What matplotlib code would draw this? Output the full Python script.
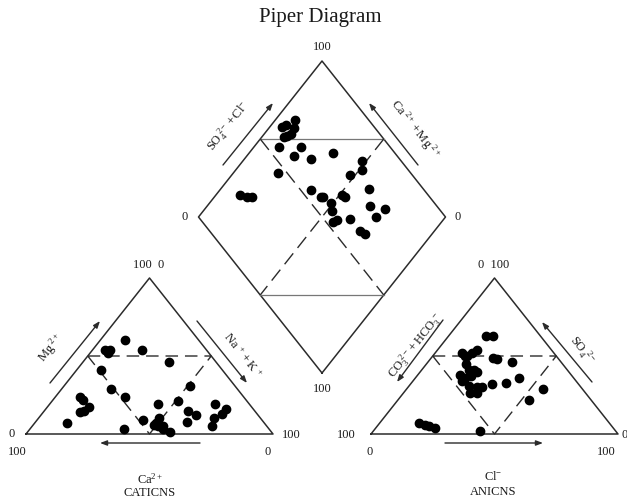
import numpy as np
import matplotlib.pyplot as plt

plt.rcParams['font.family'] = ['Liberation Serif', 'DejaVu Serif']
plt.rcParams['mathtext.fontset'] = 'stix'

# ---- data (percent) ----
# cation triangle: Mg2+ and Na+ + K+ (Ca2+ is the rest)
cat_mg = [60, 54, 54, 52, 54, 46, 41, 29, 24, 24, 22, 17, 15, 14, 7, 3, 19, 21,
          31, 15, 12, 8, 19, 16, 13, 10, 5, 9, 10, 7, 6, 5, 3, 1, 5]
cat_nak = [10, 5, 7, 7, 20, 35, 10, 20, 28, 10, 12, 17, 16, 15, 13, 38, 44, 51,
           51, 58, 63, 61, 67, 73, 73, 71, 73, 43, 49, 49, 49, 53, 54, 58, 51]

# anion triangle: SO4 2- and Cl- (CO3 2- + HCO3- is the rest)
an_so4 = [63, 63, 52, 50, 52, 54, 50, 49, 48, 46, 38, 36, 41, 41, 40, 34, 37,
          31, 30, 26, 30, 32, 33, 36, 26, 29, 22, 7, 6, 5, 4, 2, 45]
an_cl = [15, 18, 11, 14, 15, 16, 13, 25, 27, 34, 17, 20, 19, 21, 23, 20, 22,
         24, 28, 27, 30, 33, 38, 42, 30, 55, 53, 16, 19, 21, 24, 43, 16]

# diamond: SO4 2- + Cl- and Ca2+ + Mg2+
dia_so4cl = [70, 63, 65, 67, 64, 62, 60, 55, 64, 75, 58, 64, 84, 81, 46, 75,
             24, 26, 28, 54, 56, 57, 65, 66, 78, 58, 73, 56, 78, 61, 72, 55,
             53, 61, 62]
dia_camg = [92, 95, 94, 90, 89, 90, 91, 90, 81, 66, 81, 73, 52, 49, 82, 52,
            90, 87, 85, 63, 57, 56, 49, 47, 40, 51, 34, 48, 27, 38, 28, 43,
            44, 30, 27]

# ---- geometry (pixel space) ----
SIDE = 247.0
H = 156.0
LEFT0 = (26.0, 434.0)
RIGHT0 = (371.0, 434.0)
DIA_B = (322.0, 373.0)

edge = '#2b2b2b'
txt = '#1a1a1a'


def tri_xy(origin, top, right):
    top = np.asarray(top, float) / 100.0
    right = np.asarray(right, float) / 100.0
    x = origin[0] + SIDE * (right + top / 2.0)
    y = origin[1] - H * top
    return x, y


def dia_xy(a, b):
    a = np.asarray(a, float) / 100.0
    b = np.asarray(b, float) / 100.0
    x = DIA_B[0] + SIDE / 2.0 * (a - b)
    y = DIA_B[1] - H * (a + b)
    return x, y


fig = plt.figure(figsize=(6.27, 5.01), dpi=100)
ax = fig.add_axes([0, 0, 1, 1])
ax.set_xlim(0, 627)
ax.set_ylim(501, 0)
ax.axis('off')


def draw_triangle(origin):
    x, y = tri_xy(origin, [0, 100, 0, 0], [0, 0, 100, 0])
    ax.plot(x, y, color=edge, lw=1.1)
    # dashed inner triangle
    x, y = tri_xy(origin, [50, 50, 0, 50], [0, 50, 50, 0])
    ax.plot(x, y, color=edge, lw=1.0, ls=(0, (9, 5)))


draw_triangle(LEFT0)
draw_triangle(RIGHT0)

# diamond outline
x, y = dia_xy([0, 100, 100, 0, 0], [0, 0, 100, 100, 0])
ax.plot(x, y, color=edge, lw=1.1)
# solid horizontal lines
x, y = dia_xy([50, 100], [100, 50])
ax.plot(x, y, color='#777777', lw=0.9)
x, y = dia_xy([0, 50], [50, 0])
ax.plot(x, y, color='#777777', lw=0.9)
# dashed crossing lines
x, y = dia_xy([50, 50], [100, 0])
ax.plot(x, y, color=edge, lw=1.0, ls=(0, (10, 5)))
x, y = dia_xy([100, 0], [50, 50])
ax.plot(x, y, color=edge, lw=1.0, ls=(0, (10, 5)))

# points
ms = 6
x, y = tri_xy(LEFT0, cat_mg, cat_nak)
ax.plot(x, y, 'o', color='black', ms=ms)
x, y = tri_xy(RIGHT0, an_so4, an_cl)
ax.plot(x, y, 'o', color='black', ms=ms)
x, y = dia_xy(dia_so4cl, dia_camg)
ax.plot(x, y, 'o', color='black', ms=ms)


def arrow(x0, y0, x1, y1):
    ax.annotate('', xy=(x1, y1), xytext=(x0, y0),
                arrowprops=dict(arrowstyle='-|>,head_length=0.4,head_width=0.15',
                                color=edge, lw=1.0, shrinkA=0, shrinkB=0))


def label(x, y, s, rot=0, size=9):
    ax.text(x, y, s, rotation=rot, ha='center', va='center', fontsize=size,
            color=txt)


ang = np.degrees(np.arctan2(H, SIDE / 2.0))

# cation arrows/labels
arrow(50, 383, 100, 321)
arrow(197, 321, 247, 383)
arrow(200, 443, 100, 443)
label(51, 348, r'$\mathregular{Mg^{\ 2+}}$', ang)
label(242, 356, r'$\mathregular{Na^{\ +}+K^{\ +}}$', -ang)
label(149, 265, '100  0')
label(12, 434, '0')
label(17, 452, '100')
label(291, 435, '100')
label(268, 452, '0')
label(150, 479, r'$\mathregular{Ca^{2+}}$')
label(150, 493, 'CATICNS')

# anion arrows/labels
arrow(443, 320, 397, 382)
arrow(592, 382, 542, 322)
arrow(445, 443, 543, 443)
label(416, 346, r'$\mathregular{CO_3^{\ 2-}+HCO_3^{\ -}}$', ang)
label(582, 350, r'$\mathregular{SO_4^{\ \ 2-}}$', -ang)
label(494, 265, '0  100')
label(346, 435, '100')
label(370, 452, '0')
label(625, 435, '0')
label(606, 452, '100')
label(493, 477, r'$\mathregular{Cl^{-}}$')
label(493, 492, 'ANICNS')

# diamond arrows/labels
arrow(223, 165, 273, 103)
arrow(418, 165, 369, 103)
label(229, 126, r'$\mathregular{SO_4^{\ 2-}+Cl^{-}}$', ang)
label(415, 129, r'$\mathregular{Ca^{\ 2+}+Mg^{\ 2+}}$', -ang)
label(322, 47, '100')
label(185, 217, '0')
label(458, 217, '0')
label(322, 389, '100')

label(320, 17, 'Piper Diagram', size=15)

fig.savefig('out.png', dpi=100)
